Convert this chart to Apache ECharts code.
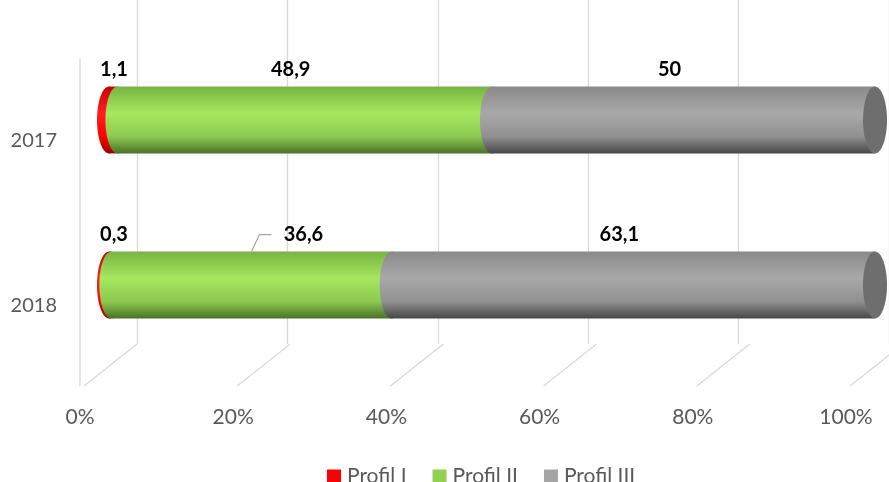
<!DOCTYPE html>
<html>
<head>
<meta charset="utf-8">
<script src="https://cdn.jsdelivr.net/npm/echarts@6/dist/echarts.min.js"></script>
<style>
  html, body { margin: 0; padding: 0; background: #fff; }
  #main { width: 889px; height: 482px; }
</style>
</head>
<body>
<div id="main"></div>
<script>
// 数据
const years = ['2017', '2018']
const profilNames = ['Profil I', 'Profil II', 'Profil III']
const profil1 = [1.1, 0.3]
const profil2 = [48.9, 36.6]
const profil3 = [50, 63.1]
const tickValues = [0, 20, 40, 60, 80, 100]

const FONT = 'Lato, "Open Sans", sans-serif'

// 圆柱颜色（上暗-中亮-下暗）
const bodyColors = [
  ['#c80000', '#ff2020', '#ff0000', '#a00000'],
  ['#78b444', '#a6e85e', '#8cc850', '#4a7226'],
  ['#8a8a8a', '#a9a9a9', '#909090', '#474747']
]
const legendColors = ['#ff0000', '#92d050', '#a5a5a5']

function grad(c) {
  return new echarts.graphic.LinearGradient(0, 0, 0, 1, [
    { offset: 0, color: c[0] },
    { offset: 0.4, color: c[1] },
    { offset: 0.75, color: c[2] },
    { offset: 1, color: c[3] }
  ])
}

// 累加得到每段的起止
const allProfils = [profil1, profil2, profil3]
function buildData(idx) {
  return years.map((y, i) => {
    let start = 0
    for (let k = 0; k < idx; k++) start += allProfils[k][i]
    const v = allProfils[idx][i]
    return [start, start + v, i, v]
  })
}

// 个别标签的手动偏移（仿原图）
const labelNudge = { '1-1': 52 }

function makeRender(idx) {
  return function (params, api) {
    const s = api.coord([api.value(0), api.value(2)])
    const e = api.coord([api.value(1), api.value(2)])
    const h = api.size([0, 1])[1] * 0.405
    const rx = 12
    const fill = grad(bodyColors[idx])
    const children = [
      { type: 'ellipse', shape: { cx: s[0], cy: s[1], rx: rx, ry: h / 2 }, style: { fill: fill } },
      { type: 'rect', shape: { x: s[0], y: s[1] - h / 2, width: e[0] - s[0], height: h }, style: { fill: fill } }
    ]
    if (idx === allProfils.length - 1) {
      children.push({
        type: 'ellipse',
        shape: { cx: e[0], cy: e[1], rx: rx, ry: h / 2 },
        style: { fill: '#6e6e6e' }
      })
    }
    // 数据标签
    const val = api.value(3)
    let lx = Math.max((s[0] + e[0]) / 2 - 14, 114)
    const key = idx + '-' + api.value(2)
    const ly = s[1] - h / 2 - 17
    if (labelNudge[key]) {
      const cx = (s[0] + e[0]) / 2
      lx = cx + labelNudge[key]
      children.push({
        type: 'polyline',
        shape: { points: [[cx, s[1] - h / 2], [cx + 8, ly], [cx + 20, ly]] },
        style: { stroke: '#a6a6a6', lineWidth: 1.2, fill: null }
      })
    }
    children.push({
      type: 'text',
      x: lx,
      y: ly,
      style: {
        text: String(val).replace('.', ','),
        font: 'bold 20px ' + FONT,
        fill: '#000',
        align: 'center',
        verticalAlign: 'middle'
      }
    })
    return { type: 'group', children: children }
  }
}

const myChart = echarts.init(document.querySelector('#main'), null, { renderer: 'canvas' })

// 3D 底面斜线和侧墙
const floor = []
tickValues.forEach((t, k) => {
  const x0 = 80 + 153.2 * k
  floor.push({
    type: 'line',
    shape: { x1: x0 + 4, y1: 386, x2: x0 + 57, y2: 344 },
    style: { stroke: '#d9d9d9', lineWidth: 1.3 },
    z: 0
  })
})
floor.push({
  type: 'line',
  shape: { x1: 80, y1: 58, x2: 80, y2: 386 },
  style: { stroke: '#d9d9d9', lineWidth: 1.3 },
  z: 0
})

const option = {
  animation: false,
  backgroundColor: '#fff',
  legend: {
    data: profilNames,
    left: 322,
    top: 461,
    icon: 'rect',
    itemWidth: 14,
    itemHeight: 14,
    itemGap: 26,
    textStyle: { fontFamily: FONT, fontSize: 21, color: '#595959', padding: [0, 0, 0, 1] }
  },
  graphic: floor,
  grid: [
    { left: 109, width: 766, top: 37.5, height: 330 },
    { left: 137, width: 766, top: 0, height: 344 },
    { left: 80, width: 766, top: 385, height: 1 },
    { left: 80, width: 766, top: 58.5, height: 330 }
  ],
  xAxis: [
    { gridIndex: 0, type: 'value', min: 0, max: 100, show: false },
    {
      gridIndex: 1, type: 'value', min: 0, max: 100, interval: 20,
      axisLine: { show: false }, axisTick: { show: false }, axisLabel: { show: false },
      splitLine: { show: true, lineStyle: { color: '#d9d9d9', width: 1.3 } }
    },
    {
      gridIndex: 2, type: 'value', min: 0, max: 100, interval: 20,
      axisLine: { show: false }, axisTick: { show: false }, splitLine: { show: false },
      axisLabel: {
        formatter: '{value}%', margin: 21,
        fontFamily: FONT, fontSize: 21, color: '#595959'
      }
    },
    { gridIndex: 3, type: 'value', show: false }
  ],
  yAxis: [
    { gridIndex: 0, type: 'category', data: years, inverse: true, show: false },
    { gridIndex: 1, type: 'value', show: false },
    { gridIndex: 2, type: 'value', show: false },
    {
      gridIndex: 3, type: 'category', data: years, inverse: true,
      axisLine: { show: false }, axisTick: { show: false },
      axisLabel: { margin: 23, fontFamily: FONT, fontSize: 20, color: '#595959' }
    }
  ],
  series: profilNames.map((name, idx) => ({
    name: name,
    type: 'custom',
    xAxisIndex: 0,
    yAxisIndex: 0,
    itemStyle: { color: legendColors[idx] },
    renderItem: makeRender(idx),
    encode: { x: [0, 1], y: 2 },
    data: buildData(idx),
    z: 2
  }))
}

myChart.setOption(option)
</script>
</body>
</html>
